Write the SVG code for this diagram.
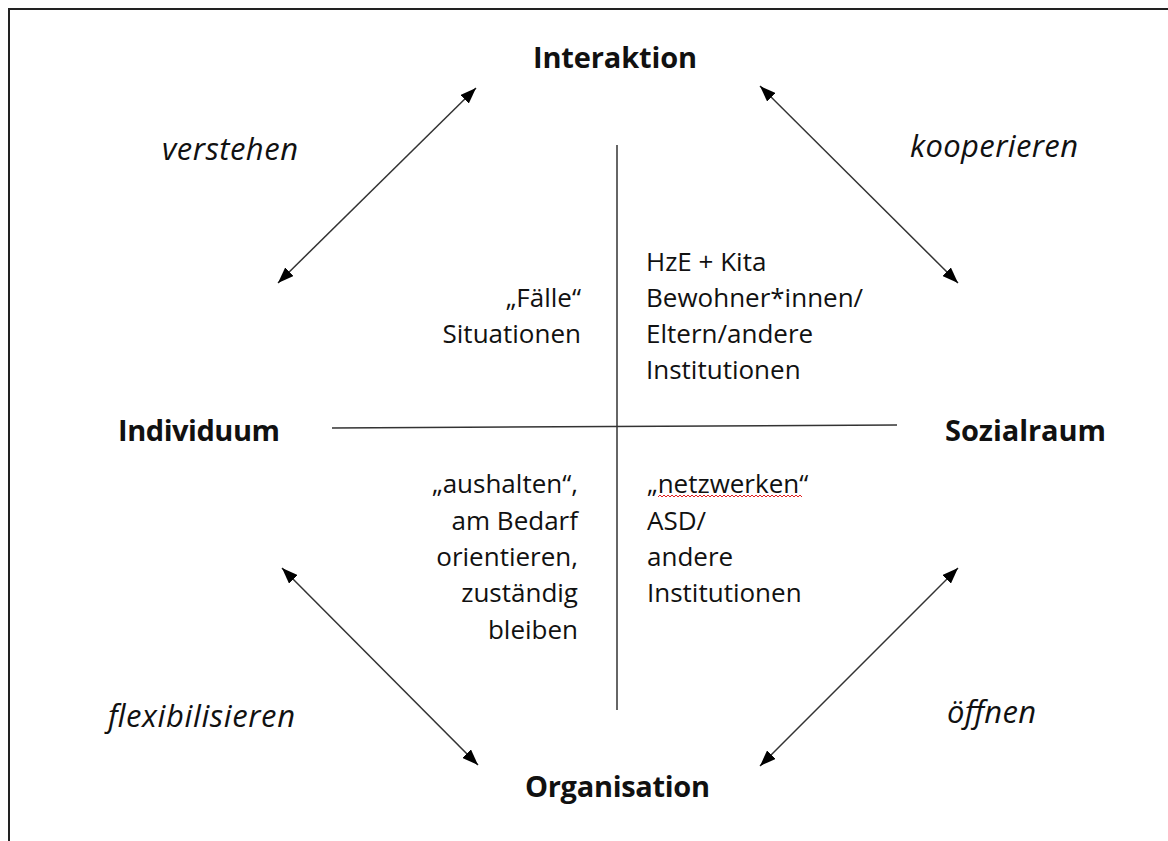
<svg xmlns="http://www.w3.org/2000/svg" width="1168" height="841" viewBox="0 0 1168 841">
  <style>
    .t { font-family: "Open Sans", "Liberation Sans", sans-serif; fill: #111; }
    .b { font-size: 29px; font-weight: bold; }
    .i { font-size: 31px; font-style: italic; }
    .r { font-size: 26px; }
    .ln { stroke: #333; stroke-width: 1.5; fill: none; }
  </style>
  <defs>
    <marker id="ah" viewBox="0 0 16 12" refX="16" refY="6" markerWidth="16" markerHeight="12" markerUnits="userSpaceOnUse" orient="auto-start-reverse">
      <path d="M0,0 L16,6 L0,12 z" fill="#000"/>
    </marker>
  </defs>
  <rect width="1168" height="841" fill="#fff"/>
  <path d="M9,841 V9 H1168" fill="none" stroke="#222" stroke-width="2"/>

  <g id="connectors">
    <line class="ln" x1="617" y1="145" x2="617" y2="710"/>
    <line class="ln" x1="332" y1="428" x2="897" y2="425"/>
    <line class="ln" x1="278" y1="283" x2="476" y2="88" marker-start="url(#ah)" marker-end="url(#ah)"/>
    <line class="ln" x1="760" y1="86" x2="958" y2="283" marker-start="url(#ah)" marker-end="url(#ah)"/>
    <line class="ln" x1="282" y1="568" x2="478" y2="765" marker-start="url(#ah)" marker-end="url(#ah)"/>
    <line class="ln" x1="958" y1="568" x2="760" y2="766" marker-start="url(#ah)" marker-end="url(#ah)"/>
  </g>

  <g id="node-interaktion"><text class="t b" x="533" y="68" textLength="164">Interaktion</text></g>
  <g id="node-individuum"><text class="t b" x="118" y="441" textLength="162">Individuum</text></g>
  <g id="node-sozialraum"><text class="t b" x="945" y="441" textLength="161">Sozialraum</text></g>
  <g id="node-organisation"><text class="t b" x="525" y="797" textLength="185">Organisation</text></g>

  <g id="label-verstehen"><text class="t i" x="162" y="160" textLength="136">verstehen</text></g>
  <g id="label-kooperieren"><text class="t i" x="910" y="157" textLength="168">kooperieren</text></g>
  <g id="label-flexibilisieren"><text class="t i" x="108" y="727" textLength="187">flexibilisieren</text></g>
  <g id="label-oeffnen"><text class="t i" x="947" y="723" textLength="89">öffnen</text></g>

  <g id="quadrant-top-left">
    <text class="t r" x="581" y="307" text-anchor="end">„Fälle“</text>
    <text class="t r" x="581" y="343" text-anchor="end">Situationen</text>
  </g>
  <g id="quadrant-top-right">
    <text class="t r" x="646" y="271">HzE + Kita</text>
    <text class="t r" x="646" y="307">Bewohner*innen/</text>
    <text class="t r" x="646" y="343">Eltern/andere</text>
    <text class="t r" x="646" y="379">Institutionen</text>
  </g>
  <g id="quadrant-bottom-left">
    <text class="t r" x="578" y="493" text-anchor="end">„aushalten“,</text>
    <text class="t r" x="578" y="530" text-anchor="end">am Bedarf</text>
    <text class="t r" x="578" y="566" text-anchor="end">orientieren,</text>
    <text class="t r" x="578" y="602" text-anchor="end">zuständig</text>
    <text class="t r" x="578" y="639" text-anchor="end">bleiben</text>
  </g>
  <g id="quadrant-bottom-right">
    <text class="t r" x="647" y="493">„netzwerken“</text>
    <path d="M658,497 l2,-2 l2,2 l2,-2 l2,2 l2,-2 l2,2 l2,-2 l2,2 l2,-2 l2,2 l2,-2 l2,2 l2,-2 l2,2 l2,-2 l2,2 l2,-2 l2,2 l2,-2 l2,2 l2,-2 l2,2 l2,-2 l2,2 l2,-2 l2,2 l2,-2 l2,2 l2,-2 l2,2 l2,-2 l2,2 l2,-2 l2,2 l2,-2 l2,2 l2,-2 l2,2 l2,-2 l2,2 l2,-2 l2,2 l2,-2 l2,2 l2,-2 l2,2 l2,-2 l2,2 l2,-2 l2,2 l2,-2 l2,2 l2,-2 l2,2 l2,-2 l2,2 l2,-2 l2,2 l2,-2 l2,2 l2,-2 l2,2 l2,-2 l2,2 l2,-2 l2,2 l2,-2 l2,2 l2,-2 l2,2 l2,-2 l2,2" fill="none" stroke="#e02020" stroke-width="1"/>
    <text class="t r" x="647" y="530">ASD/</text>
    <text class="t r" x="647" y="566">andere</text>
    <text class="t r" x="647" y="602">Institutionen</text>
  </g>
</svg>
